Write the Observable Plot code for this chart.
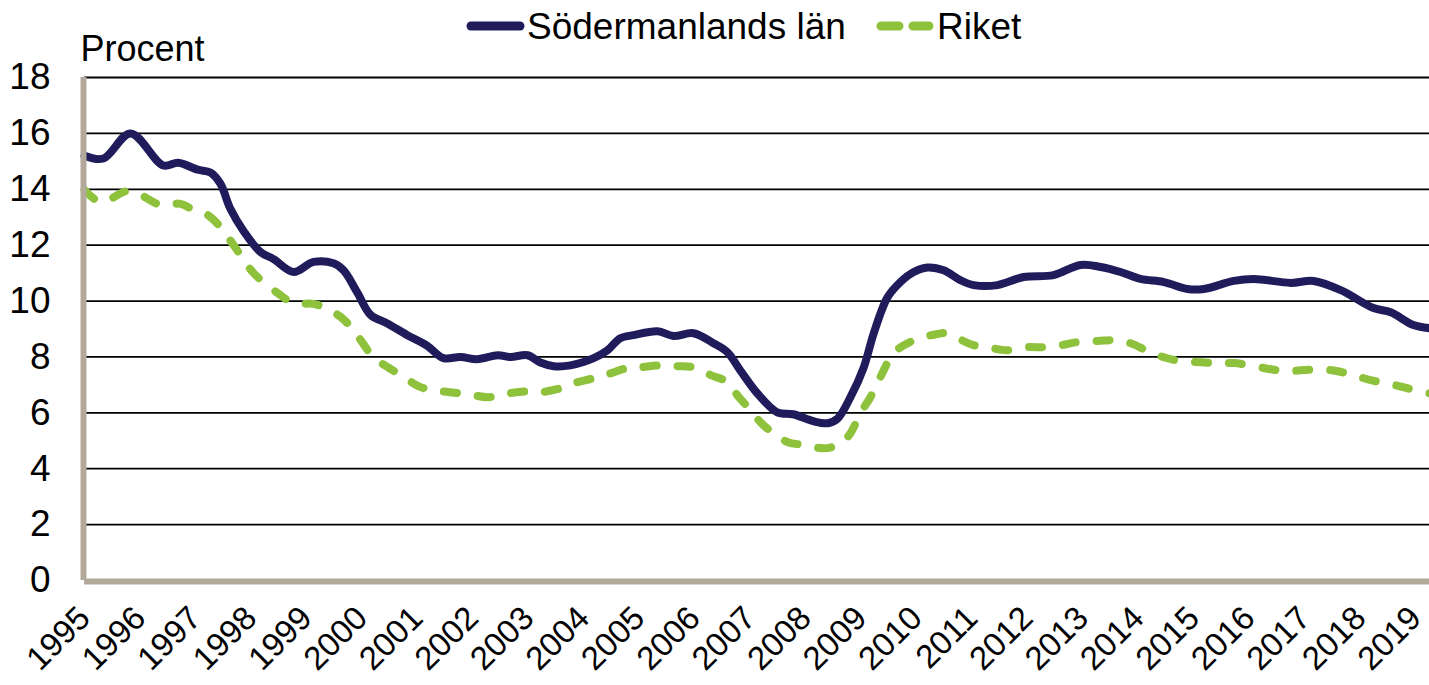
<!DOCTYPE html>
<html>
<head>
<meta charset="utf-8">
<script src="https://cdn.jsdelivr.net/npm/d3@7"></script>
<script src="https://cdn.jsdelivr.net/npm/@observablehq/plot@0.6"></script>
<style>
  html, body { margin: 0; padding: 0; background: #fff; }
  #wrap { position: relative; width: 1429px; height: 685px; font-family: "Liberation Sans", Arial, sans-serif; }
  #legend { position: absolute; left: 0; top: 0; width: 1429px; height: 70px; }
  #chart { position: absolute; left: 0; top: 0; }
</style>
</head>
<body>
<div id="wrap">
  <div id="chart"></div>
  <svg id="legend" width="1429" height="70"></svg>
</div>
<script>
const seriesNames = ["Södermanlands län", "Riket"];
const yTicks = [0, 2, 4, 6, 8, 10, 12, 14, 16, 18];
const xTickYears = d3.range(1995, 2020);

const sodYears = [1995.0,1995.34,1995.83,1996.42,1996.69,1997.04,1997.27,1997.45,1997.63,1997.87,1998.17,1998.41,1998.77,1999.13,1999.49,1999.67,1999.92,2000.16,2000.46,2000.82,2001.18,2001.47,2001.78,2002.08,2002.45,2002.68,2002.99,2003.22,2003.46,2003.76,2004.18,2004.43,2004.66,2004.90,2005.33,2005.62,2005.98,2006.34,2006.59,2006.82,2007.13,2007.49,2007.78,2008.14,2008.40,2008.58,2008.81,2009.05,2009.23,2009.48,2009.71,2009.95,2010.20,2010.49,2010.79,2011.03,2011.46,2011.93,2012.47,2012.96,2013.32,2013.68,2014.04,2014.46,2014.89,2015.18,2015.72,2016.08,2016.75,2017.16,2017.65,2018.24,2018.55,2018.96,2019.25];
const sodValues = [15.2,15.1,16.0,14.85,14.95,14.7,14.6,14.2,13.3,12.5,11.76,11.5,11.04,11.4,11.35,11.1,10.3,9.5,9.2,8.78,8.4,7.96,8.0,7.92,8.06,8.0,8.06,7.8,7.67,7.7,7.96,8.24,8.67,8.78,8.92,8.75,8.85,8.49,8.17,7.53,6.7,6.02,5.95,5.7,5.63,5.8,6.56,7.63,8.85,10.14,10.68,11.04,11.2,11.1,10.75,10.57,10.57,10.86,10.93,11.29,11.22,11.04,10.79,10.68,10.43,10.43,10.72,10.79,10.65,10.72,10.39,9.75,9.6,9.14,9.03];

const riketYears = [1995.0,1995.29,1995.78,1996.01,1996.37,1996.73,1996.97,1997.22,1997.45,1997.69,1998.05,1998.48,1998.77,1999.13,1999.31,1999.62,1999.85,1999.98,2000.21,2000.70,2001.06,2001.29,2001.91,2002.27,2002.56,2002.99,2003.22,2003.58,2003.82,2004.18,2004.43,2004.79,2005.02,2005.39,2005.69,2005.98,2006.29,2006.59,2006.77,2007.01,2007.19,2007.42,2007.68,2008.04,2008.33,2008.63,2008.81,2008.99,2009.17,2009.35,2009.59,2009.84,2010.13,2010.38,2010.52,2010.74,2011.03,2011.34,2011.64,2012.00,2012.29,2012.60,2012.90,2013.27,2013.55,2013.86,2014.17,2014.46,2014.76,2015.12,2015.43,2015.72,2016.02,2016.39,2016.69,2016.98,2017.29,2017.59,2017.88,2018.19,2018.55,2018.85,2019.25];
const riketValues = [13.98,13.55,13.94,13.8,13.44,13.48,13.26,13.08,12.65,12.0,11.0,10.29,9.93,9.9,9.78,9.43,8.96,8.6,8.0,7.35,6.92,6.81,6.67,6.56,6.67,6.77,6.74,6.88,7.06,7.24,7.38,7.6,7.63,7.7,7.67,7.63,7.35,7.1,6.63,6.09,5.66,5.27,4.95,4.84,4.73,4.9,5.27,5.99,6.56,7.28,8.14,8.49,8.71,8.82,8.85,8.67,8.42,8.32,8.24,8.35,8.35,8.42,8.53,8.57,8.6,8.49,8.21,7.99,7.85,7.81,7.78,7.78,7.7,7.56,7.49,7.53,7.56,7.49,7.35,7.17,7.03,6.88,6.7];

const colors = ["#201c5c", "#8fc23c"];
const sod = sodYears.map((t, i) => ({t, v: sodValues[i]}));
const riket = riketYears.map((t, i) => ({t, v: riketValues[i]}));

const chart = Plot.plot({
  width: 1429,
  height: 685,
  marginLeft: 84,
  marginRight: 0,
  marginTop: 77,
  marginBottom: 105,
  style: {fontFamily: '"Liberation Sans", Arial, sans-serif', fontSize: "37px", color: "#000", background: "#fff"},
  x: {domain: [1995, 2019.25], label: null},
  y: {domain: [0, 18], label: null},
  marks: [
    Plot.axisX(xTickYears, {tickFormat: d => String(d), tickRotate: -45, tickSize: 0, tickPadding: 32, fontSize: 33, label: null}),
    Plot.axisY(yTicks, {tickSize: 0, tickPadding: 34, fontSize: 37, label: null}),
    Plot.text(["Procent"], {frameAnchor: "top-left", dx: -4, dy: -17, lineAnchor: "bottom", textAnchor: "start", fontSize: 36}),
    Plot.ruleY(yTicks.filter(d => d > 0), {stroke: "#000", strokeWidth: 1.8}),
    Plot.line(riket, {x: "t", y: "v", stroke: colors[1], strokeWidth: 8, strokeDasharray: "13,21", strokeLinecap: "round", curve: "catmull-rom"}),
    Plot.line(sod, {x: "t", y: "v", stroke: colors[0], strokeWidth: 8, strokeLinecap: "round", curve: "catmull-rom"}),
    Plot.ruleX([1995], {stroke: "#b3a99b", strokeWidth: 6, dx: -1, y1: 0, y2: 18}),
    Plot.ruleY([0], {stroke: "#b3a99b", strokeWidth: 6, dy: 1, x1: 1995, x2: 2019.25})
  ]
});
document.getElementById("chart").appendChild(chart);

// Legend
const lg = d3.select("#legend");
const items = [
  {name: seriesNames[0], x0: 471, x1: 520, tx: 527, dash: null},
  {name: seriesNames[1], x0: 881, x1: 929, tx: 937, dash: "18,14"}
];
items.forEach((it, i) => {
  lg.append("line").attr("x1", it.x0).attr("x2", it.x1).attr("y1", 26).attr("y2", 26)
    .attr("stroke", colors[i]).attr("stroke-width", 9).attr("stroke-linecap", "round")
    .attr("stroke-dasharray", it.dash);
  lg.append("text").attr("x", it.tx).attr("y", 39).text(it.name)
    .attr("font-size", 37).attr("font-family", '"Liberation Sans", Arial, sans-serif').attr("fill", "#000");
});
</script>
</body>
</html>
